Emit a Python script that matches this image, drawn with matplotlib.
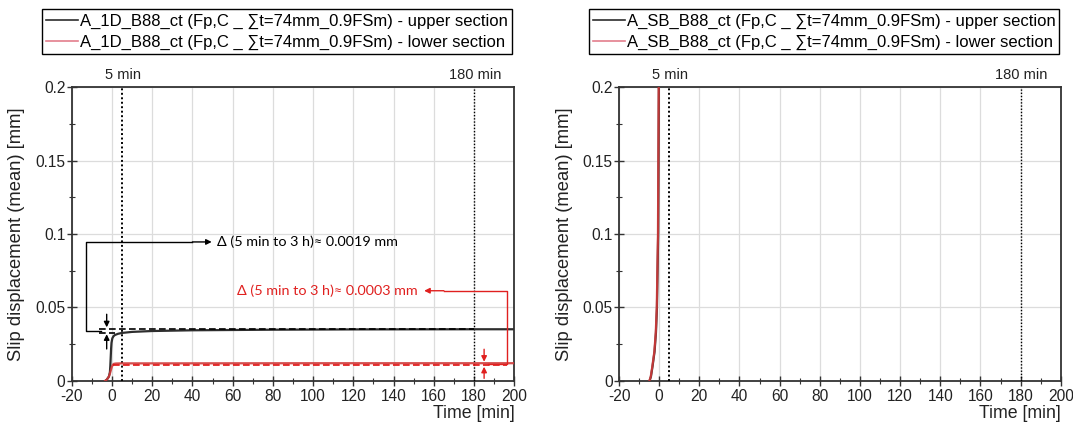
import numpy as np
import matplotlib
matplotlib.use('Agg')
import matplotlib.pyplot as plt
from matplotlib.ticker import MultipleLocator

plt.rcParams['font.family'] = ['Liberation Sans', 'DejaVu Sans']

# ---- data ----
# left panel: A_1D_B88_ct
t_up_1d = [-3.4, -2.5, -1.5, -1.0, -0.8, -0.6, -0.4, -0.2, 0.2, 0.8, 1.5, 3, 5, 10, 20, 40, 80, 120, 180, 200]
s_up_1d = [0, 0.001, 0.003, 0.006, 0.010, 0.016, 0.022, 0.026, 0.029, 0.0305, 0.0313, 0.0321, 0.0327,
           0.0334, 0.0340, 0.0345, 0.0349, 0.0351, 0.0352, 0.0352]
t_lo_1d = [-3.4, -2.5, -1.5, -1.0, -0.5, 0, 0.5, 1.0, 2, 5, 20, 100, 180, 200]
s_lo_1d = [0, 0.001, 0.003, 0.005, 0.0075, 0.0098, 0.0111, 0.0117, 0.0119, 0.0120, 0.0120, 0.0121, 0.0121, 0.0121]

# right panel: A_SB_B88_ct
t_up_sb = [-4.8, -4.1, -3.3, -2.3, -1.6, -1.1, -0.5, -0.15]
s_up_sb = [0, 0.003, 0.010, 0.020, 0.033, 0.050, 0.100, 0.200]
t_lo_sb = [-4.9, -4.2, -3.4, -2.4, -1.7, -1.2, -0.6, -0.23]
s_lo_sb = [0, 0.003, 0.010, 0.020, 0.033, 0.050, 0.100, 0.200]

# levels used for the delta markings (left panel)
up_5min, up_180min = 0.0324, 0.0355
lo_5min, lo_180min = 0.0108, 0.0120

markers_t = [5, 180]
marker_labels = ['5 min', '180 min']

xticks = np.arange(-20, 201, 20)
yticks = [0, 0.05, 0.1, 0.15, 0.2]
ytick_labels = ['0', '0.05', '0.1', '0.15', '0.2']

BLACK = '#2e2e2e'
RED = '#d03a3a'
TXT_RED = '#e0201f'

fig = plt.figure(figsize=(10.73, 4.23), dpi=100)
ax1 = fig.add_axes([0.0668, 0.0993, 0.4125, 0.695])
ax2 = fig.add_axes([0.5769, 0.0993, 0.4117, 0.695])


def style_axes(ax):
    ax.set_xlim(-20, 200)
    ax.set_ylim(0, 0.2)
    ax.set_xticks(xticks)
    ax.set_xticklabels([str(v) for v in xticks])
    ax.set_yticks(yticks)
    ax.set_yticklabels(ytick_labels)
    ax.xaxis.set_minor_locator(MultipleLocator(10))
    ax.yaxis.set_minor_locator(MultipleLocator(0.025))
    ax.tick_params(which='major', direction='inout', length=7, width=1, colors='#333333',
                   labelsize=11.2, labelcolor='#222222', pad=1)
    ax.tick_params(axis='x', which='major', pad=2)
    ax.tick_params(which='minor', direction='inout', length=4, width=0.8, colors='#333333')
    ax.grid(True, which='major', color='#dcdcdc', lw=0.9)
    ax.set_axisbelow(True)
    for sp in ax.spines.values():
        sp.set_color('#333333')
        sp.set_linewidth(1.3)
    ax.set_ylabel('Slip displacement (mean) [mm]', fontsize=13.2, color='#222222')
    ax.yaxis.set_label_coords(-0.105, 0.5)
    ax.set_xlabel('Time [min]', fontsize=12.8, color='#222222', loc='right')
    ax.xaxis.set_label_coords(1.0, -0.08)
    for t, lab in zip(markers_t, marker_labels):
        ax.axvline(t, color='black', ls=(0, (1, 1.3)), lw=1.4 if t == 5 else 1.0, zorder=3)
        ax.text(t + 0.5, 1.04, lab, transform=ax.get_xaxis_transform(), ha='center', va='center',
                fontsize=10.5, color='#222222')


style_axes(ax1)
style_axes(ax2)

# left panel curves
l1, = ax1.plot(t_up_1d, s_up_1d, color=BLACK, lw=1.6, zorder=4)
l2, = ax1.plot(t_lo_1d, s_lo_1d, color=RED, lw=1.6, alpha=0.9, zorder=5)

# dashed reference levels
ax1.plot([-6.3, 180], [up_180min, up_180min], color='black', ls=(0, (4, 2)), lw=1.2, zorder=6)
ax1.plot([-6.3, 1.5], [up_5min, up_5min], color='black', ls=(0, (4, 2)), lw=1.2, zorder=6)
ax1.plot([0.7, 196.5], [lo_5min, lo_5min], color='#e01010', ls=(0, (4, 2)), lw=1.2, zorder=6)

ap_k = dict(arrowstyle='-|>', color='black', lw=1.0, mutation_scale=8, shrinkA=0, shrinkB=0)
ap_r = dict(arrowstyle='-|>', color=TXT_RED, lw=1.0, mutation_scale=8, shrinkA=0, shrinkB=0)

# black delta arrows + bracket
ax1.annotate('', xy=(-2.6, 0.0365), xytext=(-2.6, 0.0454), arrowprops=ap_k, zorder=7)
ax1.annotate('', xy=(-2.6, 0.0318), xytext=(-2.6, 0.0218), arrowprops=ap_k, zorder=7)
ax1.plot([-5.6, -13.0, -13.0, 40], [0.034, 0.034, 0.0946, 0.0946], color='black', lw=1.0, zorder=7)
ax1.annotate('', xy=(49.6, 0.0946), xytext=(40, 0.0946), arrowprops=ap_k, zorder=7)
ax1.text(52, 0.0946, 'Δ (5 min to 3 h)≈ 0.0019 mm', ha='left', va='center',
         fontsize=10.4, family=['Lato', 'DejaVu Sans'], color='black')

# red delta arrows + bracket
ax1.annotate('', xy=(185, 0.0131), xytext=(185, 0.0216), arrowprops=ap_r, zorder=7)
ax1.annotate('', xy=(185, 0.0097), xytext=(185, 0.0018), arrowprops=ap_r, zorder=7)
ax1.plot([187, 196.5, 196.5, 165], [0.0116, 0.0116, 0.0614, 0.0614], color=TXT_RED, lw=1.0, zorder=7)
ax1.annotate('', xy=(155.2, 0.0614), xytext=(165, 0.0614), arrowprops=ap_r, zorder=7)
ax1.text(151.8, 0.0614, 'Δ (5 min to 3 h)≈ 0.0003 mm', ha='right', va='center',
         fontsize=10.4, family=['Lato', 'DejaVu Sans'], color=TXT_RED)

# right panel curves
r1, = ax2.plot(t_up_sb, s_up_sb, color=BLACK, lw=1.6, zorder=4)
r2, = ax2.plot(t_lo_sb, s_lo_sb, color=RED, lw=1.6, alpha=0.9, zorder=5)

leg_kw = dict(loc='upper left', fontsize=12, frameon=True, fancybox=False, framealpha=1,
              edgecolor='black', handlelength=1.9, handletextpad=0.1, borderpad=0.25,
              labelspacing=0.35, borderaxespad=0)
lg1 = ax1.legend([l1, l2], ['A_1D_B88_ct (Fp,C _ ∑t=74mm_0.9FSm) - upper section',
                            'A_1D_B88_ct (Fp,C _ ∑t=74mm_0.9FSm) - lower section'],
                 bbox_to_anchor=(0.0394, 0.978), bbox_transform=fig.transFigure, **leg_kw)
lg2 = ax2.legend([r1, r2], ['A_SB_B88_ct (Fp,C _ ∑t=74mm_0.9FSm) - upper section',
                            'A_SB_B88_ct (Fp,C _ ∑t=74mm_0.9FSm) - lower section'],
                 bbox_to_anchor=(0.549, 0.978), bbox_transform=fig.transFigure, **leg_kw)
for lg in (lg1, lg2):
    lg.get_frame().set_linewidth(1.0)
    for h in lg.legend_handles:
        h.set_linewidth(1.2)
    lg.legend_handles[1].set_color('#e07080')

fig.savefig('out.png', dpi=100)
